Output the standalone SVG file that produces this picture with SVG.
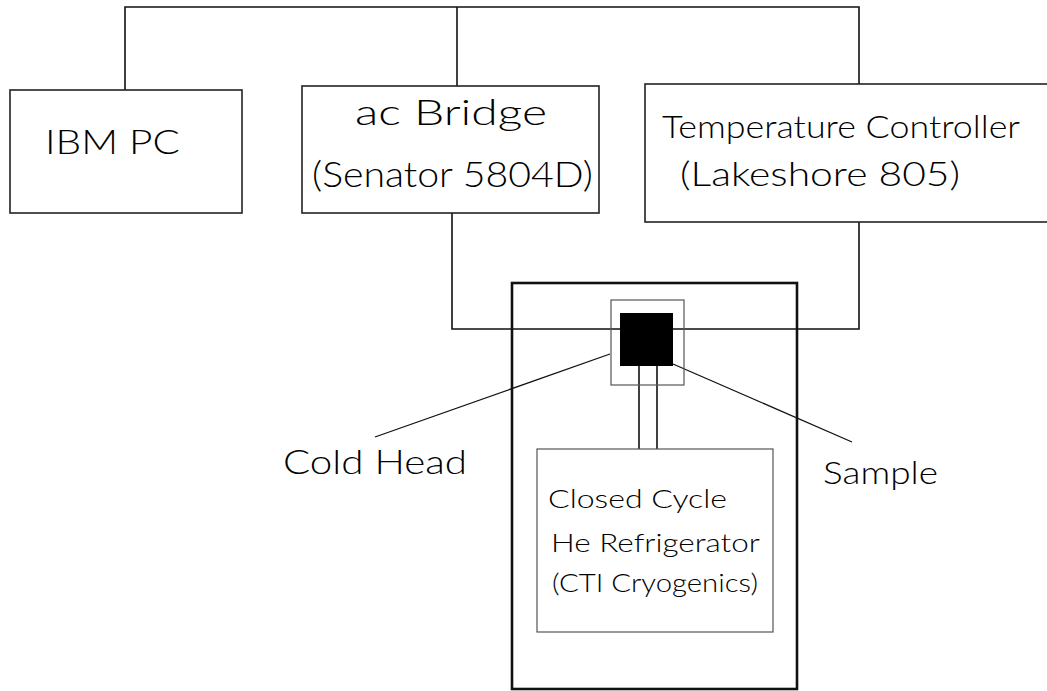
<svg xmlns="http://www.w3.org/2000/svg" width="1047" height="691" viewBox="0 0 1047 691">
<style>
.box{fill:#fff;stroke:#222;stroke-width:1.6}
.thin{fill:none;stroke:#555;stroke-width:1.2}
.wire{fill:none;stroke:#111;stroke-width:1.6}
.lead{fill:none;stroke:#111;stroke-width:1.3}
.t{font-family:Lato,"Liberation Sans",Arial,sans-serif;font-weight:300;fill:#000}
</style>
<rect width="1047" height="691" fill="#fff"/>
<g id="connectors">
<polyline class="wire" points="125,90 125,7 859,7 859,84"/>
<line class="wire" x1="457" y1="7" x2="457" y2="86"/>
<polyline class="wire" points="452,213 452,329 620,329"/>
<polyline class="wire" points="859,222 859,329 673,329"/>
<line class="wire" x1="639" y1="366" x2="639" y2="449"/>
<line class="wire" x1="657" y1="366" x2="657" y2="449"/>
<line class="lead" x1="610" y1="354" x2="375" y2="437"/>
<line class="lead" x1="673" y1="364" x2="852" y2="442"/>
</g>
<g id="ibm-pc">
<rect class="box" x="10" y="90" width="232" height="123"/>
<text class="t" x="45" y="154" font-size="34" textLength="135" lengthAdjust="spacingAndGlyphs">IBM PC</text>
</g>
<g id="ac-bridge">
<rect class="box" x="302" y="86" width="297" height="127"/>
<text class="t" x="355" y="125" font-size="35" textLength="192" lengthAdjust="spacingAndGlyphs">ac Bridge</text>
<text class="t" x="312" y="187" font-size="35" textLength="281" lengthAdjust="spacingAndGlyphs">(Senator 5804D)</text>
</g>
<g id="temperature-controller">
<rect class="box" x="645" y="84" width="404" height="138"/>
<text class="t" x="662" y="138" font-size="31" textLength="358" lengthAdjust="spacingAndGlyphs">Temperature Controller</text>
<text class="t" x="680" y="186" font-size="34" textLength="280" lengthAdjust="spacingAndGlyphs">(Lakeshore 805)</text>
</g>
<g id="cryostat">
<rect x="512" y="283" width="285" height="406" fill="none" stroke="#111" stroke-width="2.6"/>
</g>
<g id="cold-head">
<rect class="thin" x="611" y="300" width="73" height="85"/>
</g>
<g id="sample">
<rect x="620" y="313" width="53" height="53" fill="#000"/>
</g>
<g id="refrigerator">
<rect class="thin" x="537" y="449" width="236" height="183"/>
<text class="t" x="548" y="508" font-size="25" textLength="179" lengthAdjust="spacingAndGlyphs">Closed Cycle</text>
<text class="t" x="551" y="552" font-size="26" textLength="209" lengthAdjust="spacingAndGlyphs">He Refrigerator</text>
<text class="t" x="552" y="592" font-size="26" textLength="206" lengthAdjust="spacingAndGlyphs">(CTI Cryogenics)</text>
</g>
<g id="label-cold-head">
<text class="t" x="283" y="474" font-size="34" textLength="184" lengthAdjust="spacingAndGlyphs">Cold Head</text>
</g>
<g id="label-sample">
<text class="t" x="823" y="484" font-size="31" textLength="115" lengthAdjust="spacingAndGlyphs">Sample</text>
</g>
</svg>
